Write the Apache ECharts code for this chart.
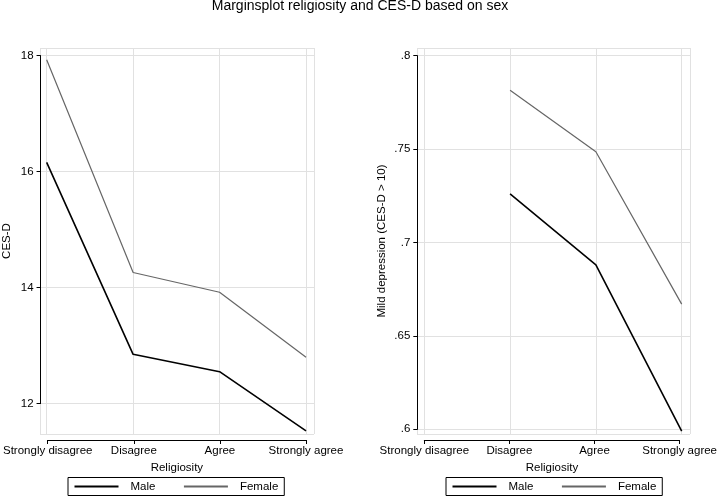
<!DOCTYPE html>
<html>
<head>
<meta charset="utf-8">
<script src="https://cdn.jsdelivr.net/npm/echarts@6/dist/echarts.min.js"></script>
<style>
html,body{margin:0;padding:0;background:#fff;}
#chart{width:720px;height:499px;}
</style>
</head>
<body>
<div id="chart"></div>
<script>
// ---- data ----
const categories = ['Strongly disagree', 'Disagree', 'Agree', 'Strongly agree'];
const maleCESD = [16.16, 12.85, 12.55, 11.53];
const femaleCESD = [17.93, 14.26, 13.92, 12.80];
const maleMild = [null, 0.726, 0.688, 0.599];
const femaleMild = [null, 0.7815, 0.7486, 0.667];
const seriesNames = ['Male', 'Female'];
const titleText = 'Marginsplot religiosity and CES-D based on sex';
const leftYTitle = 'CES-D';
const rightYTitle = 'Mild depression (CES-D > 10)';
const xTitle = 'Religiosity';

// ---- styles ----
const FONT = 'Liberation Sans, Arial, sans-serif';
const FS = 11.5;
const gridLineColor = '#e1e1e1';
const maleColor = '#000000';
const femaleColor = '#666666';

function pairs(arr) {
  return arr.map((v, i) => (v === null ? null : [i, v])).filter(p => p !== null);
}
function stripZero(v) {
  let s = String(+v.toFixed(3));
  return s.replace(/^0\./, '.');
}

const chart = echarts.init(document.getElementById('chart'), null, {renderer: 'canvas'});

const bgX = (min, max) => ({
  type: 'value', min: min, max: max, splitNumber: 3,
  axisLine: {show: false}, axisTick: {show: false}, axisLabel: {show: false},
  splitLine: {show: true, lineStyle: {color: gridLineColor, width: 1}}
});
const bgY = (min, max, split, name, gap) => ({
  type: 'value', min: min, max: max, splitNumber: split,
  axisLine: {show: false}, axisTick: {show: false}, axisLabel: {show: false},
  splitLine: {show: true, lineStyle: {color: gridLineColor, width: 1}},
  name: name, nameLocation: 'middle', nameGap: gap,
  nameTextStyle: {fontFamily: FONT, fontSize: FS, color: '#000'}
});
const axX = (offset) => ({
  type: 'category', data: categories, boundaryGap: false, offset: offset,
  axisLine: {show: true, lineStyle: {color: '#000', width: 1}},
  axisTick: {show: true, length: 4, inside: false, lineStyle: {color: '#000', width: 1}},
  axisLabel: {show: true, margin: 5, fontFamily: FONT, fontSize: FS, color: '#000', interval: 0},
  splitLine: {show: false},
  name: xTitle, nameLocation: 'middle', nameGap: 17,
  nameTextStyle: {fontFamily: FONT, fontSize: FS, color: '#000'}
});
const axY = (min, max, interval, offset, fmt) => ({
  type: 'value', min: min, max: max, interval: interval, offset: offset,
  axisLine: {show: true, lineStyle: {color: '#000', width: 1}},
  axisTick: {show: true, length: 4, inside: false, lineStyle: {color: '#000', width: 1}},
  axisLabel: {show: true, margin: 7, fontFamily: FONT, fontSize: FS, color: '#000', formatter: fmt},
  splitLine: {show: false}
});

const legendCommon = {
  data: seriesNames,
  orient: 'horizontal',
  top: 477.5,
  padding: [3, 6, 3, 5.5],
  itemWidth: 44,
  itemHeight: 14,
  itemGap: 27.5,
  borderColor: '#000',
  borderWidth: 1,
  borderRadius: 0,
  selectedMode: false,
  itemStyle: {opacity: 0},
  formatter: n => '{t|' + n + '}',
  textStyle: {fontFamily: FONT, fontSize: FS, color: '#000',
    rich: {t: {fontFamily: FONT, fontSize: FS, color: '#000', padding: [0, 0, 0, 7]}}}
};

const lineSeries = (name, xi, yi, data, color, width) => ({
  name: name, type: 'line', xAxisIndex: xi, yAxisIndex: yi,
  data: data, symbol: 'none', showSymbol: false, clip: false,
  lineStyle: {color: color, width: width}, itemStyle: {color: color},
  emphasis: {disabled: true}, animation: false, z: 5
});

const option = {
  animation: false,
  backgroundColor: '#ffffff',
  title: {
    text: titleText, left: 'center', top: -1, padding: 0,
    textStyle: {fontFamily: FONT, fontSize: 14, fontWeight: 'normal', color: '#000'}
  },
  legend: [
    Object.assign({}, legendCommon, {left: 68}),
    Object.assign({}, legendCommon, {left: 446})
  ],
  grid: [
    {left: 39, top: 48, width: 275, height: 386, containLabel: false},
    {left: 45.7, top: 55.6, width: 260.3, height: 348, containLabel: false},
    {left: 417, top: 48, width: 273, height: 386, containLabel: false},
    {left: 424.3, top: 55.7, width: 257.4, height: 373.6, containLabel: false}
  ],
  xAxis: [
    Object.assign(bgX(-0.077, 3.092), {gridIndex: 0}),
    Object.assign(axX(36.4), {gridIndex: 1}),
    Object.assign(bgX(-0.085, 3.097), {gridIndex: 2}),
    Object.assign(axX(10.7), {gridIndex: 3})
  ],
  yAxis: [
    Object.assign(bgY(11.476, 18.131, 3, leftYTitle, 27), {gridIndex: 0}),
    Object.assign(axY(12, 18, 2, 7.2, v => String(v)), {gridIndex: 1}),
    Object.assign(bgY(0.59748, 0.80412, 4, rightYTitle, 29), {gridIndex: 2}),
    Object.assign(axY(0.6, 0.8, 0.05, 7, stripZero), {gridIndex: 3})
  ],
  series: [
    lineSeries(seriesNames[0], 0, 0, pairs(maleCESD), maleColor, 1.6),
    lineSeries(seriesNames[1], 0, 0, pairs(femaleCESD), femaleColor, 1.2),
    lineSeries(seriesNames[0], 2, 2, pairs(maleMild), maleColor, 1.6),
    lineSeries(seriesNames[1], 2, 2, pairs(femaleMild), femaleColor, 1.2)
  ]
};
chart.setOption(option);
</script>
</body>
</html>
